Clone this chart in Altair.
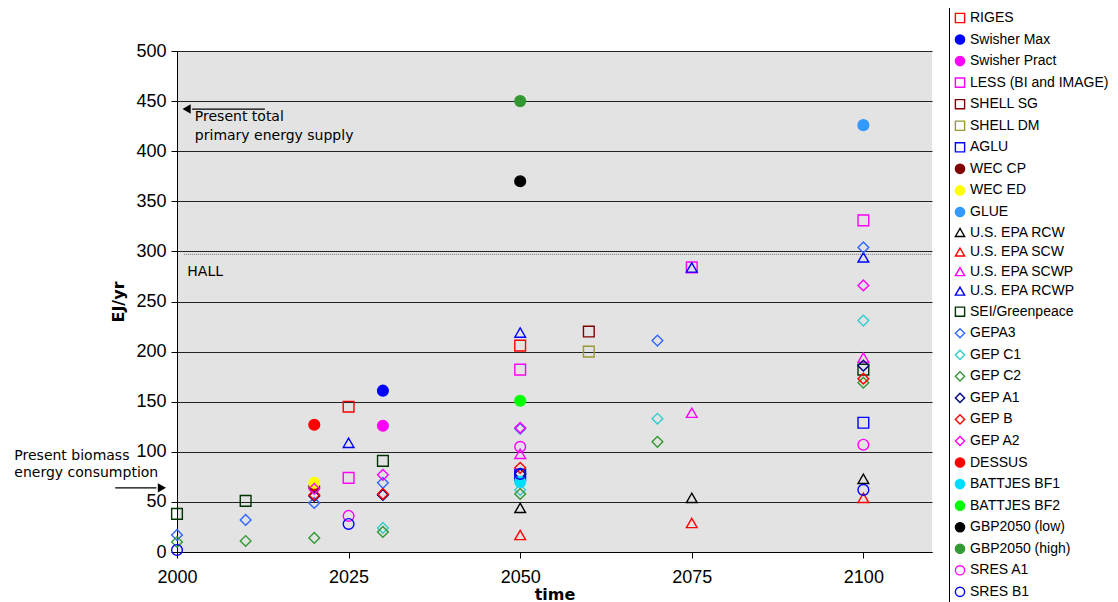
import altair as alt
import pandas as pd

# ---- series definitions (legend order) ----
series = ["RIGES", "Swisher Max", "Swisher Pract", "LESS (BI and IMAGE)", "SHELL SG",
          "SHELL DM", "AGLU", "WEC CP", "WEC ED", "GLUE", "U.S. EPA RCW", "U.S. EPA SCW",
          "U.S. EPA SCWP", "U.S. EPA RCWP", "SEI/Greenpeace", "GEPA3", "GEP C1", "GEP C2",
          "GEP A1", "GEP B", "GEP A2", "DESSUS", "BATTJES BF1", "BATTJES BF2",
          "GBP2050 (low)", "GBP2050 (high)", "SRES A1", "SRES B1"]
colors = ["#ff0000", "#0000ff", "#ff00ff", "#ff00ff", "#800000",
          "#999933", "#0000ff", "#800000", "#ffff00", "#3399ff", "#000000", "#ff0000",
          "#ff00ff", "#0000ff", "#003300", "#3366ff", "#33cccc", "#339933",
          "#000080", "#ff0000", "#ff00ff", "#ff0000", "#00ddff", "#00ff00",
          "#000000", "#339933", "#ff00ff", "#0000ff"]
shapes = ["square", "circle", "circle", "square", "square",
          "square", "square", "circle", "circle", "circle", "triangle-up", "triangle-up",
          "triangle-up", "triangle-up", "square", "diamond", "diamond", "diamond",
          "diamond", "diamond", "diamond", "circle", "circle", "circle",
          "circle", "circle", "circle", "circle"]
filled = [False, True, True, False, False,
          False, False, True, True, True, False, False,
          False, False, False, False, False, False,
          False, False, False, True, True, True,
          True, True, False, False]

# ---- values: (year, EJ/yr) ----
RIGES = [(2025, 145), (2050, 206)]
SWISHER_MAX = [(2030, 161)]
SWISHER_PRACT = [(2030, 126)]
LESS = [(2025, 74), (2050, 182), (2075, 284), (2100, 331)]
SHELL_SG = [(2060, 220)]
SHELL_DM = [(2060, 200)]
AGLU = [(2050, 77), (2100, 129)]
WEC_CP = [(2020, 65)]
WEC_ED = [(2020, 69)]
GLUE = [(2100, 426)]
EPA_RCW = [(2050, 44), (2075, 54), (2100, 73)]
EPA_SCW = [(2050, 17), (2075, 29), (2100, 54)]
EPA_SCWP = [(2050, 98), (2075, 139), (2100, 194)]
EPA_RCWP = [(2025, 109), (2050, 219), (2075, 284), (2100, 294)]
SEI = [(2000, 38), (2010, 51), (2030, 91), (2100, 182)]
GEPA3 = [(2000, 17), (2010, 32), (2020, 49), (2030, 69), (2050, 123), (2070, 211), (2100, 304)]
GEP_C1 = [(2030, 24), (2050, 62), (2070, 133), (2100, 231)]
GEP_C2 = [(2000, 10), (2010, 11), (2020, 14), (2030, 20), (2050, 58), (2070, 110), (2100, 169)]
GEP_A1 = [(2020, 56), (2030, 57), (2050, 78), (2100, 186)]
GEP_B = [(2020, 57), (2030, 58), (2050, 84), (2100, 173)]
GEP_A2 = [(2020, 63), (2030, 77), (2050, 124), (2100, 266)]
DESSUS = [(2020, 127)]
BATTJES_BF1 = [(2050, 70)]
BATTJES_BF2 = [(2050, 151)]
GBP_LOW = [(2050, 370)]
GBP_HIGH = [(2050, 450)]
SRES_A1 = [(2025, 36), (2050, 105), (2100, 107)]
SRES_B1 = [(2000, 2), (2025, 28), (2050, 78), (2100, 62)]

values = [RIGES, SWISHER_MAX, SWISHER_PRACT, LESS, SHELL_SG, SHELL_DM, AGLU, WEC_CP,
          WEC_ED, GLUE, EPA_RCW, EPA_SCW, EPA_SCWP, EPA_RCWP, SEI, GEPA3, GEP_C1,
          GEP_C2, GEP_A1, GEP_B, GEP_A2, DESSUS, BATTJES_BF1, BATTJES_BF2, GBP_LOW,
          GBP_HIGH, SRES_A1, SRES_B1]

x_ticks = [2000, 2025, 2050, 2075, 2100]
y_ticks = [0, 50, 100, 150, 200, 250, 300, 350, 400, 450, 500]

rows = []
for i, (name, pts) in enumerate(zip(series, values)):
    for yr, v in pts:
        rows.append({"series": name, "order": i, "year": yr, "value": v})
df = pd.DataFrame(rows)

fills = [c if f else "transparent" for c, f in zip(colors, filled)]

FONT = "DejaVu Sans"
TICKFONT = "Liberation Sans"

xscale = alt.Scale(domain=[2000, 2110], nice=False, zero=False)
yscale = alt.Scale(domain=[0, 500], nice=False)

points = alt.Chart(df).mark_point(size=115, strokeWidth=1.4, opacity=1, fillOpacity=1).encode(
    x=alt.X("year:Q", scale=xscale,
            axis=alt.Axis(values=x_ticks, format="d", grid=False, tickSize=6,
                          labelFontSize=18, labelFont=TICKFONT, labelColor="black",
                          labelFlush=False, labelPadding=10, title="time",
                          titleFontSize=16, titleFont=FONT, titleFontWeight="bold",
                          titlePadding=0, domainColor="black", tickColor="black")),
    y=alt.Y("value:Q", scale=yscale,
            axis=alt.Axis(values=y_ticks, grid=True, gridColor="black", gridOpacity=0.85,
                          tickSize=6, labelFontSize=18, labelFont=TICKFONT,
                          labelColor="black", labelPadding=5, labelFlush=False,
                          title="EJ/yr", titleFontSize=16, titleFont=FONT,
                          titleFontWeight="bold", titlePadding=9,
                          domainColor="black", tickColor="black")),
    stroke=alt.Stroke("series:N", scale=alt.Scale(domain=series, range=colors),
                      sort=series, title=None),
    fill=alt.Fill("series:N", scale=alt.Scale(domain=series, range=fills),
                  sort=series, title=None),
    shape=alt.Shape("series:N", scale=alt.Scale(domain=series, range=shapes),
                    sort=series, title=None),
    order=alt.Order("order:Q"),
)

# ---- annotations ----
hall_val = [297]
hall_line = alt.Chart(pd.DataFrame({"x": [2001], "x2": [2110], "y": hall_val})).mark_rule(
    color="#888888", strokeDash=[1, 1], strokeWidth=1.2
).encode(x=alt.X("x:Q", scale=xscale), x2="x2:Q", y=alt.Y("y:Q", scale=yscale))

text_df = pd.DataFrame({
    "x": [2002.6, 2002.6, 2001.5, 1976.3, 1976.3],
    "y": [434, 415, 279, 96, 79],
    "t": ["Present total", "primary energy supply", "HALL", "Present biomass",
          "energy consumption"],
})
texts = alt.Chart(text_df).mark_text(
    align="left", baseline="middle", fontSize=14, font=FONT, color="black"
).encode(x=alt.X("x:Q", scale=xscale), y=alt.Y("y:Q", scale=yscale), text="t:N")

arrow_df = pd.DataFrame({"x": [2012.8, 1991.0], "x2": [2002.2, 1997.0], "y": [442, 64]})
arrow_lines = alt.Chart(arrow_df).mark_rule(color="black", strokeWidth=1.2).encode(
    x=alt.X("x:Q", scale=xscale), x2="x2:Q", y=alt.Y("y:Q", scale=yscale))

head_left = alt.Chart(pd.DataFrame({"x": [2001.4], "y": [442]})).mark_point(
    filled=True, color="black", size=90, opacity=1, shape="triangle-left"
).encode(x=alt.X("x:Q", scale=xscale), y=alt.Y("y:Q", scale=yscale))
head_right = alt.Chart(pd.DataFrame({"x": [1997.8], "y": [64]})).mark_point(
    filled=True, color="black", size=90, opacity=1, shape="triangle-right"
).encode(x=alt.X("x:Q", scale=xscale), y=alt.Y("y:Q", scale=yscale))

chart = alt.layer(hall_line, arrow_lines, head_left, head_right, texts, points).properties(
    width=755, height=501,
    autosize=alt.AutoSizeParams(type="none"),
    padding={"left": 169, "top": 43, "right": 178, "bottom": 58},
).configure_view(
    fill="#e3e3e3", strokeWidth=0
).configure_legend(
    orient="none", legendX=772, legendY=-44, strokeColor="black", padding=4,
    labelFontSize=14, labelFont=TICKFONT, labelColor="black", symbolSize=85,
    symbolStrokeWidth=1.4, rowPadding=5.55, labelLimit=300, symbolLimit=50,
    labelOffset=3, fillColor="white"
)

chart.save("out.html", embed_options={"renderer": "svg", "actions": False})
